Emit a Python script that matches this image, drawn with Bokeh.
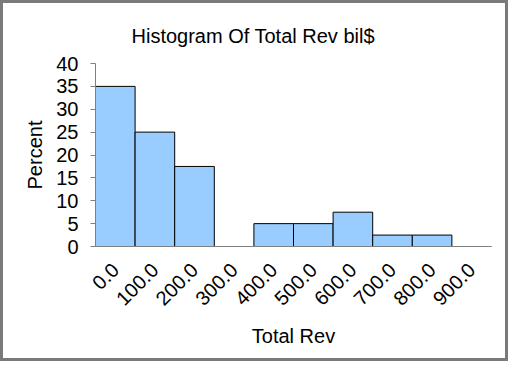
from bokeh.plotting import figure
from bokeh.models import FactorRange, Range1d, ColumnDataSource, FixedTicker
from bokeh.embed import file_html
from bokeh.resources import INLINE
import math

bins = ["0.0", "100.0", "200.0", "300.0", "400.0", "500.0", "600.0", "700.0", "800.0", "900.0"]
percent = [35, 25, 17.5, 0, 5, 5, 7.5, 2.5, 2.5, 0]
y_ticks = [0, 5, 10, 15, 20, 25, 30, 35, 40]

FONT = "Liberation Sans"
GRAY = "#808080"

W, H = 508, 361
ML, MR, MT, MB = 92, 20, 60, 118

src = ColumnDataSource(dict(x=bins, top=percent))

p = figure(width=W, height=H, output_backend="svg", toolbar_location=None,
           x_range=FactorRange(*bins, range_padding=0), y_range=Range1d(0, 40),
           title="Histogram Of Total Rev bil$",
           min_border_left=ML, min_border_right=MR, min_border_top=MT, min_border_bottom=MB)
p.styles = {"border": "3px solid #7a7a7a"}

p.vbar(x="x", top="top", width=1.0, source=src, fill_color="#99CCFF",
       line_color="black", line_width=1)

p.title.align = "left"
p.title.offset = 36
p.title.standoff = 34
p.title.text_font = FONT
p.title.text_font_size = "20px"
p.title.text_font_style = "normal"
p.title.text_color = "black"

p.xgrid.visible = False
p.ygrid.visible = False
p.outline_line_color = None
p.background_fill_color = "white"
p.border_fill_color = "white"

ya = p.yaxis[0]
ya.ticker = FixedTicker(ticks=y_ticks)
ya.axis_label = "Percent"
ya.axis_line_color = GRAY
ya.major_tick_line_color = GRAY
ya.major_tick_out = 5
ya.major_tick_in = 0
ya.minor_tick_line_color = None
ya.major_label_text_font = FONT
ya.major_label_text_font_size = "20px"
ya.major_label_text_color = "black"
ya.major_label_standoff = 12
ya.axis_label_text_font = FONT
ya.axis_label_text_font_size = "20px"
ya.axis_label_text_font_style = "normal"
ya.axis_label_text_color = "black"
ya.axis_label_standoff = 7

xa = p.xaxis[0]
xa.axis_label = "Total Rev"
xa.axis_line_color = GRAY
xa.major_tick_line_color = None
xa.minor_tick_line_color = None
xa.major_label_orientation = math.pi / 4
xa.major_label_text_font = FONT
xa.major_label_text_font_size = "20px"
xa.major_label_text_color = "black"
xa.major_label_standoff = 14
xa.axis_label_text_font = FONT
xa.axis_label_text_font_size = "20px"
xa.axis_label_text_font_style = "normal"
xa.axis_label_text_color = "black"
xa.axis_label_standoff = 10

open("out.html", "w").write(file_html(p, INLINE))
